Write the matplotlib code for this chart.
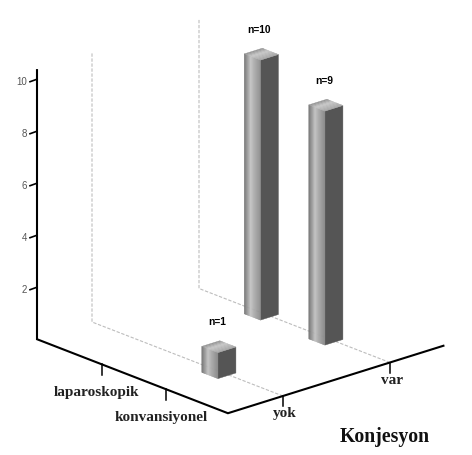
# -*- coding: utf-8 -*-

import numpy as np
import matplotlib
matplotlib.use('Agg')
import matplotlib.pyplot as plt

#data
konjesyon = ['yok', 'var']
gruplar = ['konvansiyonel', 'laparoskopik']
bar_konj = [0, 1, 1]     #index into konjesyon
bar_grup = [0, 1, 0]     #index into gruplar
bar_n = [1, 10, 9]
ytick_vals = [2, 4, 6, 8, 10]

#oblique projection, in pixels
X0, Y0 = 221, 372
KX, KY = 107, -33.5   #one konjesyon step
GX, GY = -64.5, -25   #one grup step
ZY = -26              #one count
K_MIN, K_MAX = -0.514, 1.5
G_MIN, G_MAX = -0.96, 2.0
Z_MAX = 10.35
HW, HD = 0.084, 0.125 #bar half sizes


def proj(k, g, z=0):
    return X0 + KX * k + GX * g, Y0 + KY * k + GY * g + ZY * z


def line(ax, pts, **kw):
    xy = [proj(*p) for p in pts]
    ax.plot([p[0] for p in xy], [p[1] for p in xy], **kw)


def face(ax, pts, c):
    xy = [proj(*p) for p in pts]
    ax.fill([p[0] for p in xy], [p[1] for p in xy], color=c, lw=0.3, zorder=5)


def bar(ax, k, g, n):
    k = k - 0.02
    l, r = k - HW, k + HW
    f, b = g - HD, g + HD
    #right face flat dark
    face(ax, [(l, f, 0), (r, f, 0), (r, f, n), (l, f, n)], '#555555')
    #left face, shaded in strips
    edges = np.linspace(b, f, 17)
    for i in range(16):
        t = i / 15
        s = np.interp(t, [0, 0.4, 0.65, 1], [0.45, 0.76, 0.66, 0.55])
        face(ax, [(l, edges[i], 0), (l, edges[i + 1], 0),
                  (l, edges[i + 1], n), (l, edges[i], n)], str(s))
    #top face
    edges = np.linspace(b, f, 11)
    for i in range(10):
        t = i / 9
        s = np.interp(t, [0, 0.4, 1], [0.58, 0.78, 0.66])
        face(ax, [(l, edges[i], n), (l, edges[i + 1], n),
                  (r, edges[i + 1], n), (r, edges[i], n)], str(s))
    x, y = proj(k, g, n)
    ax.text(x - 2, y - 24.5, 'n=%d' % n, ha='center', va='center', fontsize=7.4,
            fontweight='bold', family='Liberation Sans', color='black', zorder=6)


fig = plt.figure(figsize=(4.72, 4.55), dpi=100)
ax = fig.add_axes([0, 0, 1, 1])
ax.set(xlim=[0, 472], ylim=[455, 0])
ax.axis('off')

#dashed guides
for i in range(len(konjesyon)):
    line(ax, [(i, G_MIN), (i, G_MAX), (i, G_MAX, Z_MAX)], color='#bdbdbd',
         lw=0.8, ls=(0, (3, 1.5)), zorder=1)

#axes
line(ax, [(K_MIN, G_MAX, Z_MAX), (K_MIN, G_MAX), (K_MIN, G_MIN), (K_MAX, G_MIN)],
     color='black', lw=1.5, solid_joinstyle='miter', zorder=3)

#value ticks
for v in ytick_vals:
    x, y = proj(K_MIN, G_MAX, v)
    ax.plot([x, x - 7], [y, y + 2.5], color='black', lw=1.2, zorder=3)
    ax.text(x - 10, y + 3, str(v), ha='right', va='center', fontsize=7,
            family='Liberation Sans', color='#555555')

#category ticks
lab = dict(ha='center', va='center', fontsize=11, fontweight='bold',
           family='Liberation Serif', color='#222222')
for i, name in enumerate(konjesyon):
    x, y = proj(i, G_MIN)
    ax.plot([x, x], [y, y + 10], color='black', lw=1.1, zorder=3)
    ax.text(x + 2, y + 18, name, **lab)
for i, name in enumerate(gruplar):
    x, y = proj(K_MIN, i)
    ax.plot([x, x], [y, y + 11], color='black', lw=1.1, zorder=3)
    ax.text(x - 5, y + 28, name, **lab)

ax.text(385, 437, 'Konjesyon', ha='center', va='center', fontsize=14.2,
        fontweight='bold', family='Liberation Serif', color='#111111')

#bars, back ones first
for k, g, n in sorted(zip(bar_konj, bar_grup, bar_n), key=lambda t: -t[1]):
    bar(ax, k, g, n)

plt.savefig('out.png', dpi=100)
